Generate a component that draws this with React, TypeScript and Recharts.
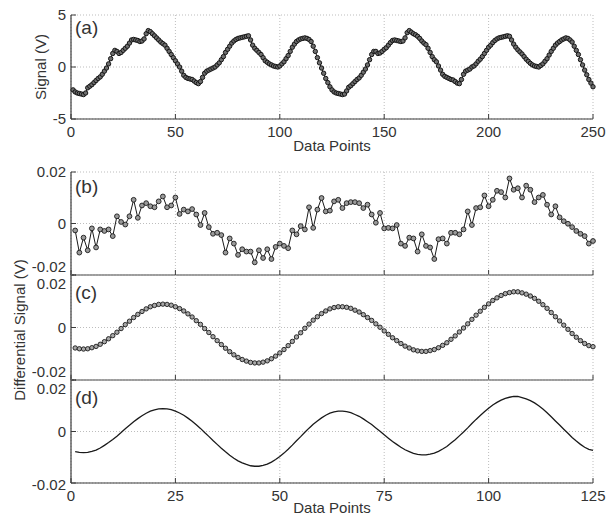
import React from 'react';
import { LineChart, Line, XAxis, YAxis, CartesianGrid } from 'recharts';

const FONT = '"Liberation Sans", Arial, Helvetica, sans-serif';
const TEXT = '#333';
const FRAME = '#3c3c3c';
const FS = 15;

// (a) raw signal, data points 1..250
const signalA = [
  -2.2, -2.4, -2.5, -2.55, -2.6, -2.65, -2.5, -2.0, -1.85, -1.7,
  -1.5, -1.3, -1.1, -0.95, -0.7, -0.4, -0.1, 0.3, 0.8, 1.3,
  1.6, 1.5, 1.3, 1.4, 1.6, 1.8, 2.0, 2.3, 2.6, 2.65,
  2.6, 2.55, 2.45, 2.5, 2.7, 3.2, 3.5, 3.4, 3.2, 3.0,
  2.8, 2.6, 2.4, 2.25, 2.1, 1.8, 1.5, 1.2, 0.9, 0.6,
  0.3, 0.0, -0.4, -0.8, -1.0, -1.1, -1.15, -1.2, -1.35, -1.5,
  -1.6, -1.4, -1.0, -0.6, -0.4, -0.3, -0.2, -0.1, 0.0, 0.2,
  0.4, 0.7, 1.0, 1.4, 1.7, 2.0, 2.3, 2.5, 2.65, 2.75,
  2.8, 2.85, 2.9, 2.95, 3.0, 2.6, 2.1, 1.8, 1.6, 1.4,
  1.2, 0.9, 0.6, 0.45, 0.3, 0.2, 0.1, 0.05, 0.0, 0.1,
  0.3, 0.5, 0.8, 1.1, 1.5, 1.9, 2.2, 2.45, 2.6, 2.7,
  2.75, 2.8, 2.75, 2.65, 2.45, 2.0, 1.5, 0.9, 0.4, -0.1,
  -0.6, -1.1, -1.5, -1.9, -2.2, -2.4, -2.5, -2.55, -2.6, -2.65,
  -2.6, -2.3, -1.95, -1.8, -1.6, -1.4, -1.2, -1.05, -0.8, -0.5,
  -0.2, 0.2, 0.7, 1.2, 1.5, 1.5, 1.3, 1.35, 1.5, 1.7,
  1.85, 2.1, 2.35, 2.55, 2.6, 2.55, 2.5, 2.45, 2.5, 2.8,
  3.3, 3.5, 3.35, 3.2, 3.1, 2.95, 2.75, 2.5, 2.3, 2.15,
  1.8, 1.4, 1.0, 0.7, 0.5, 0.1, -0.3, -0.7, -0.9, -1.0,
  -1.1, -1.2, -1.25, -1.4, -1.55, -1.6, -1.2, -0.7, -0.4, -0.3,
  -0.2, 0.0, 0.1, 0.3, 0.55, 0.75, 1.0, 1.3, 1.6, 1.9,
  2.1, 2.35, 2.55, 2.7, 2.8, 2.85, 2.9, 2.95, 3.0, 2.95,
  2.6, 2.2, 1.9, 1.65, 1.45, 1.25, 1.0, 0.75, 0.55, 0.35,
  0.2, 0.1, 0.05, 0.0, 0.15, 0.3, 0.55, 0.8, 1.15, 1.5,
  1.8, 2.1, 2.3, 2.45, 2.6, 2.7, 2.8, 2.75, 2.6, 2.4,
  2.0, 1.6, 1.2, 0.7, 0.2, -0.3, -0.75, -1.2, -1.55, -1.9,
];

// (b) raw differential signal, data points 1..125
const diffRawB = [
  -0.0027, -0.0113, -0.0055, -0.0104, -0.0019, -0.0093, -0.0023, -0.0029, -0.0023, -0.0049,
  0.0028, 0.0006, -0.0004, 0.0028, 0.0092, 0.0022, 0.007, 0.0079, 0.0067, 0.0063,
  0.0086, 0.0105, 0.0063, 0.007, 0.0101, 0.0037, 0.0054, 0.0047, 0.0056, 0.0035,
  -0.0006, 0.0041, -0.0014, -0.004, -0.0036, -0.0045, -0.0113, -0.0058, -0.0078, -0.0122,
  -0.01, -0.0109, -0.0109, -0.0151, -0.0104, -0.0134, -0.01, -0.0138, -0.0091, -0.0078,
  -0.0087, -0.0096, -0.0027, -0.0042, -0.001, -0.0023, 0.0063, -0.0017, 0.0054, 0.0099,
  0.0047, 0.005, 0.0086, 0.0092, 0.006, 0.0079, 0.0083, 0.0083, 0.0079, 0.006,
  0.0073, 0.0035, 0.0003, 0.0041, -0.0019, -0.0017, -0.0019, -0.0006, -0.0078, -0.0087,
  -0.0055, -0.0058, -0.0109, -0.0042, -0.0087, -0.0093, -0.0138, -0.0061, -0.0058, -0.0078,
  -0.0036, -0.0036, -0.0042, -0.0023, 0.0047, -0.0006, 0.006, 0.0063, 0.0109, 0.0067,
  0.0092, 0.0127, 0.0122, 0.0101, 0.0175, 0.0131, 0.0137, 0.0101, 0.0147, 0.0131,
  0.0083, 0.0101, 0.0111, 0.0073, 0.0035, 0.0067, 0.0024, 0.0009, -0.0001, -0.0014,
  -0.0029, -0.004, -0.0049, -0.0078, -0.0068,
];

// (c) and (d) smoothed differential signal, data points 1..125
const diffSmooth = [
  -0.0078, -0.0081, -0.0082, -0.0081, -0.0077, -0.0072, -0.0064, -0.0054, -0.0043, -0.0031,
  -0.0018, -0.0004, 0.0011, 0.0024, 0.0038, 0.005, 0.0061, 0.0071, 0.0079, 0.0084,
  0.0088, 0.0089, 0.0088, 0.0085, 0.0079, 0.0072, 0.0063, 0.0052, 0.004, 0.0026,
  0.0012, -0.0004, -0.0019, -0.0035, -0.005, -0.0065, -0.0079, -0.0092, -0.0104, -0.0114,
  -0.0122, -0.0128, -0.0133, -0.0135, -0.0135, -0.0132, -0.0127, -0.0119, -0.0109, -0.0097,
  -0.0084, -0.0069, -0.0053, -0.0036, -0.002, -0.0003, 0.0013, 0.0028, 0.0041, 0.0053,
  0.0063, 0.0071, 0.0076, 0.0079, 0.0079, 0.0077, 0.0073, 0.0066, 0.0059, 0.0049,
  0.0038, 0.0027, 0.0014, 0.0001, -0.0013, -0.0026, -0.0039, -0.005, -0.0061, -0.0071,
  -0.0078, -0.0085, -0.0089, -0.0091, -0.0091, -0.0088, -0.0084, -0.0077, -0.0068, -0.0058,
  -0.0045, -0.0032, -0.0017, -0.0002, 0.0014, 0.0031, 0.0047, 0.0062, 0.0077, 0.009,
  0.0103, 0.0113, 0.0122, 0.0129, 0.0133, 0.0136, 0.0136, 0.0132, 0.0127, 0.012,
  0.0111, 0.01, 0.0087, 0.0073, 0.0057, 0.0041, 0.0025, 0.0009, -0.0007, -0.0023,
  -0.0037, -0.005, -0.0061, -0.0069, -0.0073,
];

const xTicksA = [0, 50, 100, 150, 200, 250];
const xTicksB = [0, 25, 50, 75, 100, 125];
const yTicksA = [-5, 0, 5];
const yTicksB = [-0.02, 0, 0.02];

const dataA = signalA.map((v, i) => ({ x: i + 1, y: v }));
const dataB = diffRawB.map((v, i) => ({ x: i + 1, y: v }));
const dataC = diffSmooth.map((v, i) => ({ x: i + 1, y: v }));

const TL = 5;

const bottomTick = (showLabel: boolean) => (props: any) => {
  const { x, y, payload } = props;
  return (
    <g>
      <line x1={x} x2={x} y1={y} y2={y - TL} stroke={FRAME} strokeWidth={1} />
      {showLabel && (
        <text x={x} y={y + 13} dy="0.35em" textAnchor="middle" fontSize={FS} fontFamily={FONT} fill={TEXT}>
          {String(payload.value)}
        </text>
      )}
    </g>
  );
};

const topTick = (props: any) => {
  const { x, y } = props;
  return <line x1={x} x2={x} y1={y} y2={y + TL} stroke={FRAME} strokeWidth={1} />;
};

const leftTick = (shift: (v: number) => number) => (props: any) => {
  const { x, y, payload } = props;
  return (
    <g>
      <line x1={x} x2={x + TL} y1={y} y2={y} stroke={FRAME} strokeWidth={1} />
      <text x={x - 5} y={y + shift(payload.value)} dy="0.35em" textAnchor="end" fontSize={FS} fontFamily={FONT} fill={TEXT}>
        {String(payload.value)}
      </text>
    </g>
  );
};

const rightTick = (props: any) => {
  const { x, y } = props;
  return <line x1={x} x2={x - TL} y1={y} y2={y} stroke={FRAME} strokeWidth={1} />;
};

type PanelProps = {
  data: { x: number; y: number }[];
  top: number;
  height: number;
  marginTop: number;
  xAxisHeight: number;
  xDomain: [number, number];
  xTicks: number[];
  yDomain: [number, number];
  yTicks: number[];
  showXLabels: boolean;
  yShift: (v: number) => number;
  dots: any;
  lineWidth: number;
};

const Panel = (p: PanelProps) => (
  <div style={{ position: 'absolute', left: 0, top: p.top }}>
    <LineChart width={613} height={p.height} data={p.data} margin={{ top: p.marginTop, right: 20, bottom: 0, left: 0 }}>
      <CartesianGrid stroke="#bdbdbd" strokeDasharray="1 2" strokeWidth={1} />
      <XAxis
        dataKey="x"
        type="number"
        domain={p.xDomain}
        ticks={p.xTicks}
        interval={0}
        height={p.xAxisHeight}
        tickSize={0}
        tickMargin={0}
        tickLine={false}
        axisLine={{ stroke: FRAME, strokeWidth: 1.2 }}
        tick={bottomTick(p.showXLabels)}
      />
      <XAxis
        xAxisId="top"
        orientation="top"
        dataKey="x"
        type="number"
        domain={p.xDomain}
        ticks={p.xTicks}
        interval={0}
        height={0}
        tickSize={0}
        tickMargin={0}
        tickLine={false}
        axisLine={{ stroke: FRAME, strokeWidth: 1.2 }}
        tick={topTick}
      />
      <YAxis
        type="number"
        domain={p.yDomain}
        ticks={p.yTicks}
        interval={0}
        width={71}
        tickSize={0}
        tickMargin={0}
        tickLine={false}
        axisLine={{ stroke: FRAME, strokeWidth: 1.2 }}
        tick={leftTick(p.yShift)}
      />
      <YAxis
        yAxisId="right"
        orientation="right"
        type="number"
        domain={p.yDomain}
        ticks={p.yTicks}
        interval={0}
        width={0}
        tickSize={0}
        tickMargin={0}
        tickLine={false}
        axisLine={{ stroke: FRAME, strokeWidth: 1.2 }}
        tick={rightTick}
      />
      <Line
        dataKey="y"
        type="linear"
        stroke="#1a1a1a"
        strokeWidth={p.lineWidth}
        dot={p.dots}
        activeDot={false}
        isAnimationActive={false}
      />
    </LineChart>
  </div>
);

const textStyle: React.CSSProperties = {
  position: 'absolute',
  fontFamily: FONT,
  color: TEXT,
  whiteSpace: 'nowrap',
  lineHeight: '18px',
};

const centered = (cx: number, cy: number, rotate = false): React.CSSProperties => ({
  ...textStyle,
  left: cx,
  top: cy,
  fontSize: FS,
  transform: `translate(-50%, -50%)${rotate ? ' rotate(-90deg)' : ''}`,
});

const panelLetter = (top: number): React.CSSProperties => ({
  ...textStyle,
  left: 75,
  top,
  fontSize: 19,
  lineHeight: '20px',
});

export default function App() {
  const dotA = { r: 2.2, stroke: '#151515', strokeWidth: 1, fill: '#6e6e6e' };
  const dotB = { r: 2.4, stroke: '#1a1a1a', strokeWidth: 0.9, fill: '#9a9a9a' };
  const dotC = { r: 2.2, stroke: '#1a1a1a', strokeWidth: 0.9, fill: '#a8a8a8' };
  return (
    <div style={{ position: 'absolute', left: 0, top: 0, width: 613, height: 517, background: '#fff', overflow: 'hidden' }}>
      <Panel
        data={dataA}
        top={0}
        height={160}
        marginTop={15}
        xAxisHeight={41}
        xDomain={[0, 250]}
        xTicks={xTicksA}
        yDomain={[-5, 5]}
        yTicks={yTicksA}
        showXLabels={true}
        yShift={() => 0}
        dots={dotA}
        lineWidth={1}
      />
      <Panel
        data={dataB}
        top={150}
        height={130}
        marginTop={22}
        xAxisHeight={5}
        xDomain={[0, 125]}
        xTicks={xTicksB}
        yDomain={[-0.02, 0.02]}
        yTicks={yTicksB}
        showXLabels={false}
        yShift={(v) => (v < 0 ? -8 : 0)}
        dots={dotB}
        lineWidth={1}
      />
      <Panel
        data={dataC}
        top={265}
        height={120}
        marginTop={10}
        xAxisHeight={5}
        xDomain={[0, 125]}
        xTicks={xTicksB}
        yDomain={[-0.02, 0.02]}
        yTicks={yTicksB}
        showXLabels={false}
        yShift={(v) => (v > 0 ? 9 : v < 0 ? -8 : 0)}
        dots={dotC}
        lineWidth={1}
      />
      <Panel
        data={dataC}
        top={370}
        height={147}
        marginTop={10}
        xAxisHeight={34}
        xDomain={[0, 125]}
        xTicks={xTicksB}
        yDomain={[-0.02, 0.02]}
        yTicks={yTicksB}
        showXLabels={true}
        yShift={(v) => (v > 0 ? 9 : v < 0 ? 2 : 0)}
        dots={false}
        lineWidth={1.3}
      />
      <div style={panelLetter(18)}>(a)</div>
      <div style={panelLetter(177)}>(b)</div>
      <div style={panelLetter(283)}>(c)</div>
      <div style={panelLetter(388)}>(d)</div>
      <div style={centered(332, 146)}>Data Points</div>
      <div style={centered(332, 508)}>Data Points</div>
      <div style={centered(41, 67, true)}>Signal (V)</div>
      <div style={centered(20, 330, true)}>Differential Signal (V)</div>
    </div>
  );
}
